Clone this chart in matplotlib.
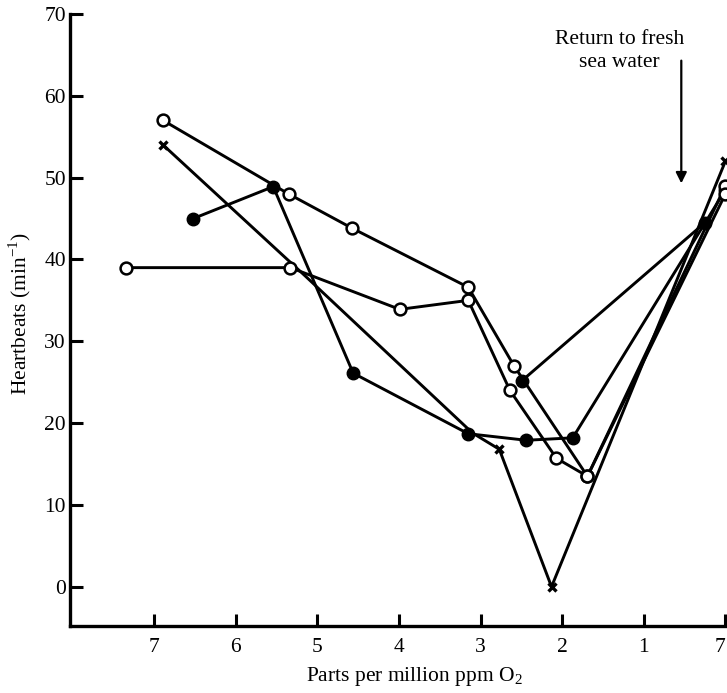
import matplotlib
matplotlib.use("Agg")
import matplotlib.pyplot as plt

# ---- data (x = ppm O2; recovery in fresh sea water plotted at position 0, labelled "7") ----
x_ticks = [7, 6, 5, 4, 3, 2, 1, 0]
x_tick_labels = ["7", "6", "5", "4", "3", "2", "1", "7"]
y_ticks = [0, 10, 20, 30, 40, 50, 60, 70]

open1_x = [6.89, 5.35, 4.57, 3.15, 2.59, 1.69, 0.0]
open1_y = [57.0, 48.0, 43.8, 36.6, 27.0, 13.5, 49.0]

open2_x = [7.34, 5.33, 3.99, 3.15, 2.64, 2.07, 1.69, 0.0]
open2_y = [39.0, 39.0, 33.9, 35.0, 24.0, 15.7, 13.5, 48.0]

filled1_x = [6.52, 5.54, 4.56, 3.15, 2.44, 1.87, 0.0]
filled1_y = [45.0, 48.9, 26.1, 18.7, 17.9, 18.2, 48.5]

filled2_x = [2.49, 0.25]
filled2_y = [25.2, 44.5]

cross_x = [6.89, 5.15, 3.10, 2.77, 2.13, 0.0]
cross_y = [54.0, 38.0, 18.8, 16.8, 0.0, 52.0]
cross_marked = [True, False, False, True, True, True]

SERIF = ["Liberation Serif", "DejaVu Serif"]
plt.rcParams["font.family"] = SERIF
plt.rcParams["mathtext.fontset"] = "custom"
plt.rcParams["mathtext.rm"] = "Liberation Serif"

fig = plt.figure(figsize=(7.27, 6.93), dpi=100)
ax = fig.add_axes([70 / 727, 67 / 693, 657 / 727, 612 / 693])

lw = 2.1
# lines
ax.plot(cross_x, cross_y, color="black", lw=lw, zorder=2, clip_on=False)
ax.plot(filled1_x, filled1_y, color="black", lw=lw, zorder=2, clip_on=False)
ax.plot(filled2_x, filled2_y, color="black", lw=lw, zorder=2, clip_on=False)
ax.plot(open1_x, open1_y, color="black", lw=lw, zorder=2, clip_on=False)
ax.plot(open2_x, open2_y, color="black", lw=lw, zorder=2, clip_on=False)

# markers
cx = [x for x, m in zip(cross_x, cross_marked) if m]
cy = [y for y, m in zip(cross_y, cross_marked) if m]
ax.plot(cx, cy, linestyle="none", marker="x", ms=6, mew=2.4, color="black",
        zorder=4, clip_on=False)
ax.plot(filled1_x, filled1_y, linestyle="none", marker="o", ms=9, color="black",
        zorder=4, clip_on=False)
ax.plot(filled2_x, filled2_y, linestyle="none", marker="o", ms=9, color="black",
        zorder=4, clip_on=False)
for xs, ys in ((open1_x, open1_y), (open2_x, open2_y)):
    ax.plot(xs, ys, linestyle="none", marker="o", ms=8.5, mfc="white", mec="black",
            mew=1.8, zorder=5, clip_on=False)

ax.set_xlim(8.03, -0.02)
ax.set_ylim(-4.8, 70)

ax.set_xticks(x_ticks)
ax.set_xticklabels(x_tick_labels)
ax.set_yticks(y_ticks)
ax.get_xticklabels()[-1].set_horizontalalignment("right")

for s in ("top", "right"):
    ax.spines[s].set_visible(False)
for s in ("left", "bottom"):
    ax.spines[s].set_linewidth(2.4)

ax.tick_params(axis="both", direction="in", length=9, width=2.2, labelsize=15.5)
ax.tick_params(axis="y", pad=3)
ax.tick_params(axis="x", pad=9)

fig.text(414 / 727, 1 - 677 / 693, "Parts per million ppm O$_2$", fontsize=15.5,
         ha="center", va="center")
fig.text(20 / 727, 1 - 314 / 693, "Heartbeats (min$^{-1}$)", fontsize=15.5,
         ha="center", va="center", rotation=90)

ax.text(1.30, 68.0, "Return to fresh\nsea water", ha="center", va="top",
        fontsize=15.5, linespacing=1.25)
ax.annotate("", xy=(0.54, 49.3), xytext=(0.54, 64.3),
            arrowprops=dict(arrowstyle="-|>", color="black", lw=1.6,
                            mutation_scale=16, shrinkA=0, shrinkB=0))

fig.savefig("out.png", dpi=100)
